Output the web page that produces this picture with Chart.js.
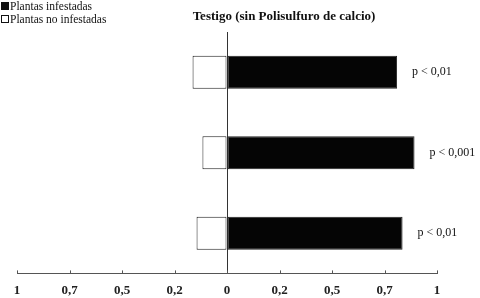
<!DOCTYPE html>
<html lang="es">
<head>
  <meta charset="UTF-8">
  <title>Testigo (sin Polisulfuro de calcio)</title>
  <script src="https://cdn.jsdelivr.net/npm/chart.js"></script>
  <style>
    body {
      margin: 0;
      padding: 0;
      background: #fff;
    }
    #wrap {
      width: 480px;
      height: 298px;
    }
  </style>
</head>
<body>
  <div id="wrap"><canvas id="myChart"></canvas></div>

  <script>
    // data (axis units: -1 .. 1, evenly spaced ticks)
    var categories = ['A', 'B', 'C'];
    var infestadas = [0.81, 0.893, 0.836];
    var noInfestadas = [-0.164, -0.117, -0.145];
    var pValues = ['p < 0,01', 'p < 0,001', 'p < 0,01'];
    var tickLabels = ['1', '0,7', '0,5', '0,2', '0', '0,2', '0,5', '0,7', '1'];
    var seriesNames = ['Plantas infestadas', 'Plantas no infestadas'];
    var titleText = 'Testigo (sin Polisulfuro de calcio)';

    var serif = '"Liberation Serif", "Times New Roman", serif';

    // legend, title, p labels and the small upward ticks
    var extras = {
      id: 'extras',
      afterDraw: function (chart) {
        var ctx = chart.ctx;
        var x = chart.scales.x;
        ctx.save();

        // small tick marks above the axis
        ctx.strokeStyle = '#555';
        ctx.lineWidth = 1;
        x.ticks.forEach(function (t) {
          var px = Math.round(x.getPixelForValue(t.value)) + 0.5;
          ctx.beginPath();
          ctx.moveTo(px, x.top);
          ctx.lineTo(px, x.top - 3);
          ctx.stroke();
        });

        // legend
        ctx.font = '11.5px ' + serif;
        ctx.textBaseline = 'middle';
        ctx.textAlign = 'left';
        ctx.fillStyle = '#111';
        ctx.fillRect(1, 2, 8, 8);
        ctx.fillText(seriesNames[0], 10, 7);
        ctx.fillStyle = '#fff';
        ctx.fillRect(1.5, 15.5, 7, 7);
        ctx.strokeStyle = '#111';
        ctx.strokeRect(1.5, 15.5, 7, 7);
        ctx.fillStyle = '#111';
        ctx.fillText(seriesNames[1], 10, 20);

        // title
        ctx.font = 'bold 13px ' + serif;
        ctx.textAlign = 'center';
        ctx.fillText(titleText, 284, 17);

        // p values next to the black bars
        ctx.font = '12px ' + serif;
        ctx.textAlign = 'left';
        var meta = chart.getDatasetMeta(0);
        meta.data.forEach(function (bar, i) {
          ctx.fillText(pValues[i], bar.x + 15, bar.y);
        });

        ctx.restore();
      }
    };

    var ctx = document.getElementById('myChart').getContext('2d');
    var myChart = new Chart(ctx, {
      type: 'bar',
      data: {
        labels: categories,
        datasets: [{
          label: seriesNames[0],
          data: infestadas,
          backgroundColor: '#050505',
          borderColor: '#222',
          borderWidth: 1,
          borderSkipped: false,
          barPercentage: 0.41,
          categoryPercentage: 1
        }, {
          label: seriesNames[1],
          data: noInfestadas,
          backgroundColor: '#fff',
          borderColor: '#222',
          borderWidth: 1,
          borderSkipped: false,
          barPercentage: 0.41,
          categoryPercentage: 1
        }]
      },
      options: {
        indexAxis: 'y',
        responsive: true,
        maintainAspectRatio: false,
        animation: false,
        layout: {
          padding: { left: 17, right: 43, top: 32, bottom: -9 }
        },
        plugins: {
          legend: { display: false },
          title: { display: false },
          tooltip: { enabled: false }
        },
        scales: {
          x: {
            stacked: true,
            min: -1,
            max: 1,
            border: { display: true, color: '#555', width: 1 },
            grid: {
              drawTicks: false,
              color: function (c) {
                return c.tick && c.tick.value === 0 ? '#333' : 'rgba(0,0,0,0)';
              }
            },
            ticks: {
              stepSize: 0.25,
              padding: 9,
              maxRotation: 0,
              autoSkip: false,
              color: '#222',
              font: { family: serif, size: 13, weight: 'bold' },
              callback: function (value, index) {
                return tickLabels[index];
              }
            }
          },
          y: {
            stacked: true,
            display: false
          }
        }
      },
      plugins: [extras]
    });
  </script>
</body>
</html>
